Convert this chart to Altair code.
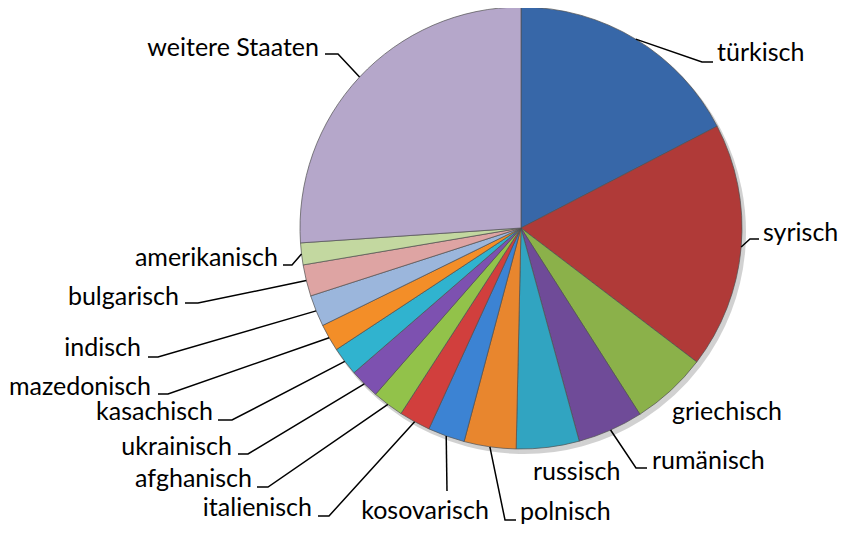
import math
import altair as alt
import pandas as pd

# ---- data (shares in percent) ----
labels = ["türkisch", "syrisch", "griechisch", "rumänisch", "russisch", "polnisch",
          "kosovarisch", "italienisch", "afghanisch", "ukrainisch", "kasachisch",
          "mazedonisch", "indisch", "bulgarisch", "amerikanisch", "weitere Staaten"]
values = [17.4, 18.0, 5.6, 4.8, 4.6, 3.8, 2.7, 2.3, 2.3, 2.2, 2.1, 2.0, 2.3, 2.3, 1.6, 26.1]
colors = ["#3767a8", "#b03a38", "#8bb14a", "#6f4b98", "#31a4c1", "#e8862e",
          "#3c83d3", "#d13f3d", "#92c24a", "#7d51b0", "#30b3cf", "#f38e28",
          "#9bb6dc", "#dea4a3", "#c3d8a0", "#b5a7ca"]

# ---- layout (page pixels) ----
W, H, M = 832, 517, 8
CX, CY, R = 521 - M, 228 - M, 221
FONT, FSIZE = "Lato", 25

# label anchor: (text x, text y, align, leader points after the slice edge point)
label_layout = {
    "türkisch": (717, 53, "left", [(702, 62), (713, 62)]),
    "syrisch": (763, 233, "left", [(750, 239), (759, 239)]),
    "griechisch": (672, 412, "left", []),
    "rumänisch": (652, 461, "left", [(636, 468), (647, 468)]),
    "russisch": (533, 472, "left", []),
    "polnisch": (520, 512, "left", [(505, 520), (516, 520)]),
    "kosovarisch": (425, 511, "center", [(447, 491)]),
    "italienisch": (312, 508, "right", [(329, 516), (318, 516)]),
    "afghanisch": (252, 479, "right", [(268, 487), (257, 487)]),
    "ukrainisch": (232, 447, "right", [(248, 454), (238, 454)]),
    "kasachisch": (213, 412, "right", [(232, 420), (218, 420)]),
    "mazedonisch": (151, 387, "right", [(168, 394), (158, 394)]),
    "indisch": (141, 348, "right", [(158, 357), (148, 357)]),
    "bulgarisch": (179, 297, "right", [(198, 303), (185, 303)]),
    "amerikanisch": (278, 258, "right", [(292, 265), (283, 265)]),
    "weitere Staaten": (319, 48, "right", [(338, 54), (325, 54)]),
}

df = pd.DataFrame({"label": labels, "value": values, "idx": list(range(len(labels)))})

# leader lines: start on the slice edge at the slice's mid angle
total = sum(values)
line_rows, text_rows = [], []
cum = 0.0
for lab, v in zip(labels, values):
    mid = (cum + v / 2) / total * 2 * math.pi
    cum += v
    ex, ey = CX + R * math.sin(mid), CY - R * math.cos(mid)
    tx, ty, al, pts = label_layout[lab]
    text_rows.append({"label": lab, "tx": tx - M, "ty": ty - M, "align": al})
    if pts:
        line_rows.append({"label": lab, "k": 0, "px": ex, "py": ey})
        for k, (px, py) in enumerate(pts, start=1):
            line_rows.append({"label": lab, "k": k, "px": px - M, "py": py - M})
lines_df = pd.DataFrame(line_rows)
text_df = pd.DataFrame(text_rows)

base = alt.Chart(df)
shadow = base.mark_arc(radius=R + 1, color="#000000", opacity=0.18).encode(
    theta=alt.Theta("value:Q", stack=True),
    order=alt.Order("idx:Q"),
    x=alt.value(CX + 3), y=alt.value(CY + 4),
)
pie = base.mark_arc(radius=R, stroke="#505050", strokeWidth=0.7).encode(
    theta=alt.Theta("value:Q", stack=True),
    color=alt.Color("label:N", scale=alt.Scale(domain=labels, range=colors), legend=None),
    order=alt.Order("idx:Q"),
    x=alt.value(CX), y=alt.value(CY),
)
leaders = alt.Chart(lines_df).mark_line(color="black", strokeWidth=1.5).encode(
    x=alt.X("px:Q", scale=None, axis=None),
    y=alt.Y("py:Q", scale=None, axis=None),
    detail="label:N",
    order="k:Q",
)

texts = []
for al in ["left", "right", "center"]:
    texts.append(
        alt.Chart(text_df[text_df["align"] == al]).mark_text(
            align=al, baseline="middle", font=FONT, fontSize=FSIZE, color="black"
        ).encode(
            x=alt.X("tx:Q", scale=None, axis=None),
            y=alt.Y("ty:Q", scale=None, axis=None),
            text="label:N",
        )
    )

chart = alt.layer(shadow, pie, leaders, *texts).properties(
    width=W, height=H, padding=0, autosize=alt.AutoSizeParams(type="none")
).configure_view(stroke=None)

chart.save("out.html", embed_options={"renderer": "svg", "actions": False})
